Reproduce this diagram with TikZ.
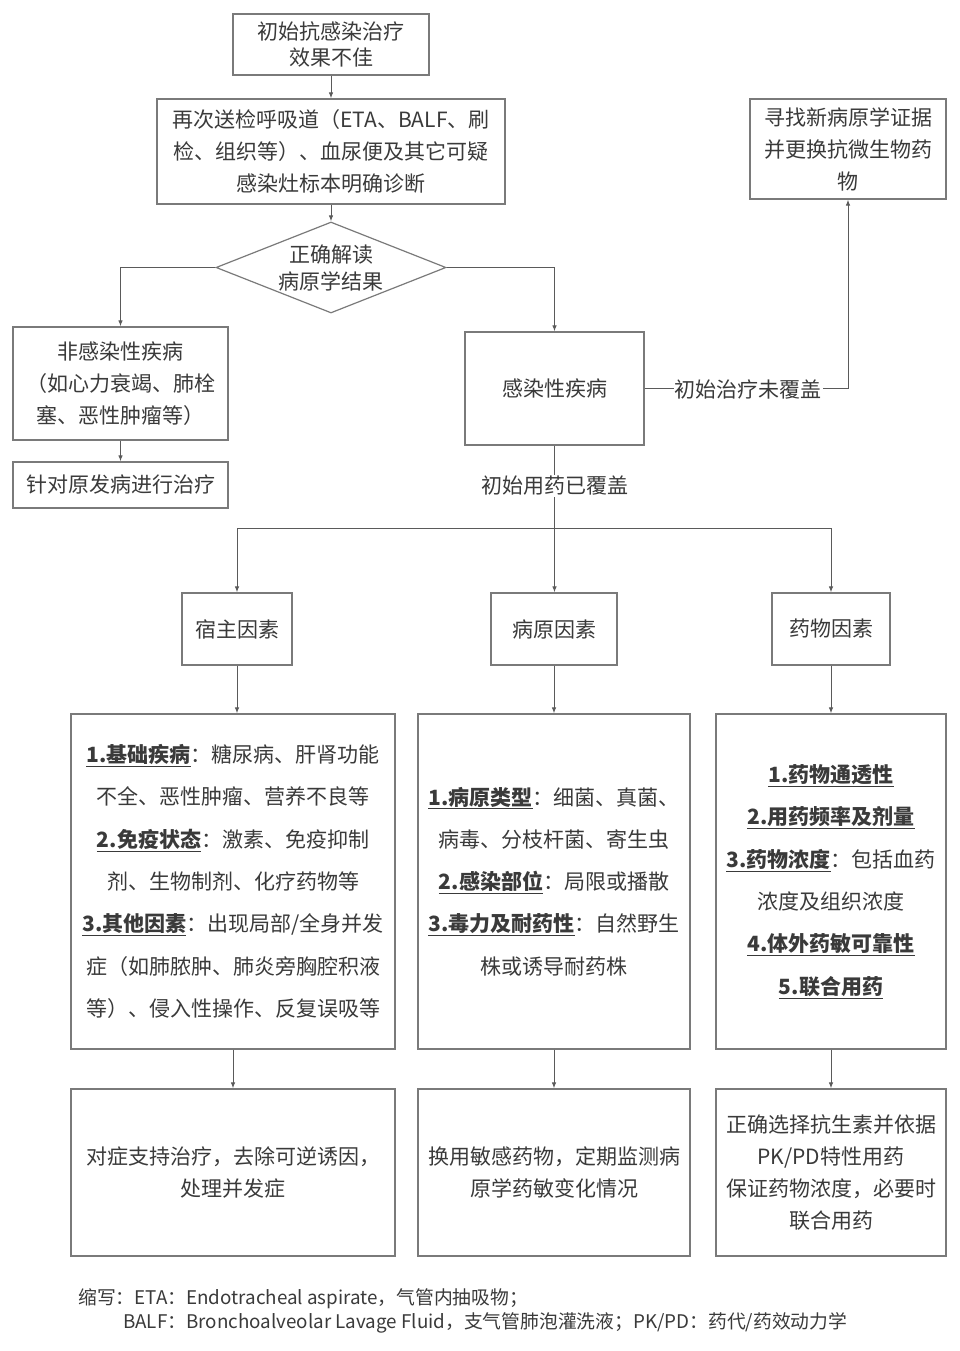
\documentclass[tikz,border=0pt]{standalone}
\usepackage{fontspec}
\setmainfont{Noto Sans CJK SC}
\usetikzlibrary{arrows.meta,shapes.geometric}
\definecolor{txt}{HTML}{3A3A3A}
\definecolor{edge}{HTML}{7A7A7A}
\definecolor{conn}{HTML}{5A5A5A}
\newcommand\kw[1]{\underline{\textbf{#1}}}
\begin{document}
\begin{tikzpicture}[x=1pt,y=-1pt,
  box/.style={draw=edge, line width=1.2pt, text=txt, align=center, inner sep=0pt, font=\fontsize{21}{32}\selectfont},
  big/.style={box, font=\fontsize{21}{42.3}\selectfont},
  conn/.style={draw=conn, line width=1pt},
  arr/.style={conn, -{Latex[length=6pt,width=4.5pt]}},
  lab/.style={fill=white, text=txt, font=\fontsize{21}{24}\selectfont, inner sep=1pt},
  note/.style={text=txt, anchor=west, inner sep=0pt, font=\fontsize{18.8}{20}\selectfont},
]
\useasboundingbox (0,0) rectangle (960,1351);
\fill[white] (0,0) rectangle (960,1351);

\node[box, minimum width=196pt, minimum height=61pt, font=\fontsize{21}{26}\selectfont] (top) at (331,44.5) {初始抗感染治疗\\效果不佳};
\node[box, minimum width=348pt, minimum height=105pt] (box2) at (331,151.5) {再次送检呼吸道（ETA、BALF、刷\\检、组织等）、血尿便及其它可疑\\感染灶标本明确诊断};
\node[box, shape=diamond, aspect=2.53, minimum width=230pt, minimum height=91pt, font=\fontsize{21}{27}\selectfont] (dia) at (331,267.5) {正确解读\\病原学结果};
\node[box, minimum width=215pt, minimum height=113pt] (noninf) at (120.5,383.5) {非感染性疾病\\（如心力衰竭、肺栓\\塞、恶性肿瘤等）};
\node[box, minimum width=215pt, minimum height=46pt] (treat) at (120.5,485) {针对原发病进行治疗};
\node[box, minimum width=179pt, minimum height=113pt] (inf) at (554.5,388.5) {感染性疾病};
\node[box, minimum width=196pt, minimum height=100pt] (newbox) at (848,149) {寻找新病原学证据\\并更换抗微生物药\\物};

\node[box, minimum width=110pt, minimum height=72pt] (host) at (237,629) {宿主因素};
\node[box, minimum width=126pt, minimum height=72pt] (pathf) at (554,629) {病原因素};
\node[box, minimum width=118pt, minimum height=72pt] (drug) at (831,629) {药物因素};

\node[big, minimum width=324pt, minimum height=335pt] (hostbig) at (233,881.5) {\kw{1.基础疾病}：糖尿病、肝肾功能\\不全、恶性肿瘤、营养不良等\\\kw{2.免疫状态}：激素、免疫抑制\\剂、生物制剂、化疗药物等\\\kw{3.其他因素}：出现局部/全身并发\\症（如肺脓肿、肺炎旁胸腔积液\\等）、侵入性操作、反复误吸等};
\node[big, minimum width=272pt, minimum height=335pt] (pathbig) at (554,881.5) {\kw{1.病原类型}：细菌、真菌、\\病毒、分枝杆菌、寄生虫\\\kw{2.感染部位}：局限或播散\\\kw{3.毒力及耐药性}：自然野生\\株或诱导耐药株};
\node[big, minimum width=230pt, minimum height=335pt] (drugbig) at (831,881.5) {\kw{1.药物通透性}\\\kw{2.用药频率及剂量}\\\kw{3.药物浓度}：包括血药\\浓度及组织浓度\\\kw{4.体外药敏可靠性}\\\kw{5.联合用药}};

\node[box, minimum width=324pt, minimum height=167pt] (hostend) at (233,1172.5) {对症支持治疗，去除可逆诱因，\\处理并发症};
\node[box, minimum width=272pt, minimum height=167pt] (pathend) at (554,1172.5) {换用敏感药物，定期监测病\\原学药敏变化情况};
\node[box, minimum width=230pt, minimum height=167pt] (drugend) at (831,1172.5) {正确选择抗生素并依据\\PK/PD特性用药\\保证药物浓度，必要时\\联合用药};

\draw[arr] (top) -- (box2);
\draw[arr] (box2) -- (dia);
\draw[arr] (dia.west) -| (noninf.north);
\draw[arr] (dia.east) -| (inf.north);
\draw[arr] (noninf) -- (treat);
\draw[arr] (inf.east) -| (newbox.south);
\node[lab] (l1) at (748,389) {初始治疗未覆盖};

\coordinate (j) at (554.5,528);
\draw[conn] (inf.south) -- (j);
\node[lab] (l2) at (554.5,486) {初始用药已覆盖};
\draw[arr] (j) -| (host.north);
\draw[arr] (j) -| (drug.north);
\draw[arr] (j) -- (j |- pathf.north);

\draw[arr] (host.south) -- (host.south |- hostbig.north);
\draw[arr] (pathf) -- (pathbig);
\draw[arr] (drug) -- (drugbig);
\draw[arr] (hostbig) -- (hostend);
\draw[arr] (pathbig) -- (pathend);
\draw[arr] (drugbig) -- (drugend);

\node[note] (n1) at (78,1299) {缩写：ETA：Endotracheal aspirate，气管内抽吸物；};
\node[note] (n2) at (123,1323) {BALF：Bronchoalveolar Lavage Fluid，支气管肺泡灌洗液；PK/PD：药代/药效动力学};
\end{tikzpicture}
\end{document}
